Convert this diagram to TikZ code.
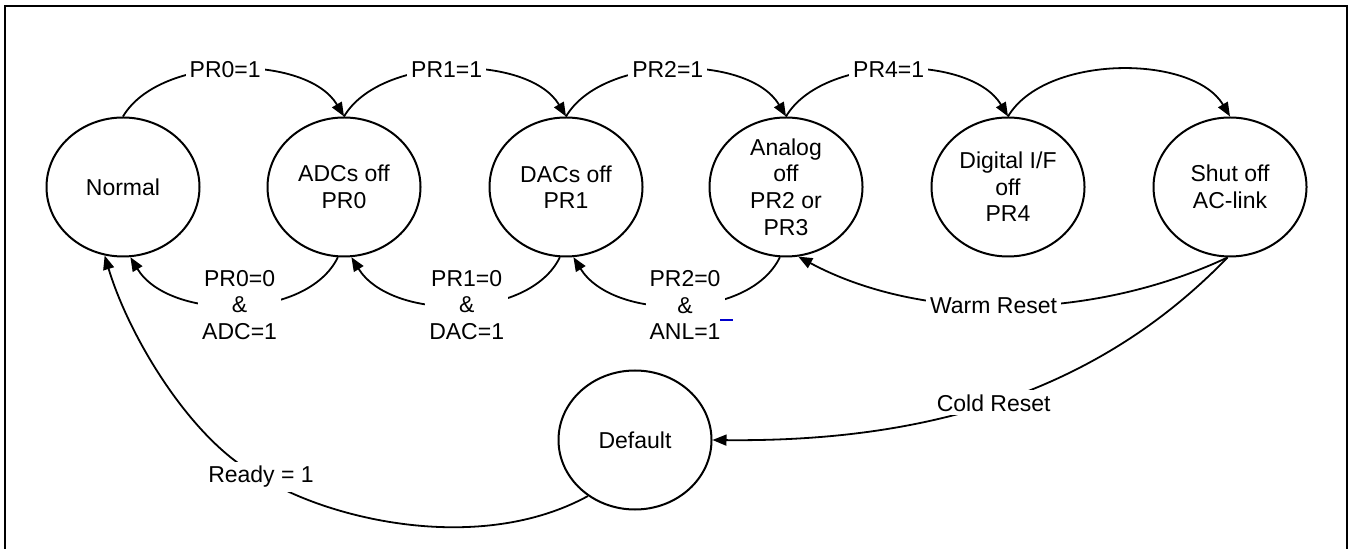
\documentclass[tikz,border=0pt]{standalone}
\usepackage{fontspec}
\setmainfont{Liberation Sans}
\usetikzlibrary{shapes.geometric,arrows.meta}
\newcommand{\lblfont}{\fontsize{11.5}{13.3}\selectfont}
\begin{document}
\begin{tikzpicture}[x=0.5pt,y=-0.5pt,
  st/.style={ellipse,draw,line width=1pt,minimum width=76.5pt,minimum height=69.5pt,inner sep=0pt,align=center,font=\lblfont},
  lbl/.style={fill=white,inner sep=2pt,align=center,font=\lblfont},
  con/.style={line width=0.9pt,-{Triangle[length=7pt,width=5.5pt]}},
  frame/.style={line width=1.3pt}]
\useasboundingbox (0,0) rectangle (1353,549);
\draw[frame] (5,549) -- (5,6) -- (1347,6) -- (1347,549);
% states
\node[st] (N) at (123,187) {Normal};
\node[st] (A) at (344,187) {ADCs off\\PR0};
\node[st] (D) at (566,187) {DACs off\\PR1};
\node[st] (G) at (786,187) {Analog\\off\\PR2 or\\PR3};
\node[st] (I) at (1008,187) {Digital I/F\\off\\PR4};
\node[st] (S) at (1230,187) {Shut off\\AC-link};
\node[st] (Df) at (635,440) {Default};
% forward transitions (top)
\draw[con] (N.north) .. controls (160,54) and (307,54) .. node[lbl,pos=0.47]{PR0=1} (A.north);
\draw[con] (A.north) .. controls (381,54) and (529,54) .. node[lbl,pos=0.47]{PR1=1} (D.north);
\draw[con] (D.north) .. controls (603,54) and (749,54) .. node[lbl,pos=0.47]{PR2=1} (G.north);
\draw[con] (G.north) .. controls (823,54) and (971,54) .. node[lbl,pos=0.47]{PR4=1} (I.north);
\draw[con] (I.north) .. controls (1045,54) and (1193,54) .. (S.north);
% backward transitions (bottom)
\draw[con] (A.-95) .. controls (307,321) and (169,321) .. node[lbl,pos=0.49]{PR0=0\\\&\\ADC=1} (N.-84);
\draw[con] (D.-95) .. controls (529,321) and (391,321) .. node[lbl,pos=0.47]{PR1=0\\\&\\DAC=1} (A.-84);
\draw[con] (G.-95) .. controls (749,321) and (613,321) .. node[lbl,pos=0.48]{PR2=0\\\&\\ANL=1} (D.-84);
\draw[blue!80!black,line width=0.8pt] (720,320) -- (733,320);
% resets
\draw[con] (S.-92) .. controls (1090,322) and (920,322) .. node[lbl,pos=0.53]{Warm Reset} (G.-80);
\draw[con] (S.-92) .. controls (1090,400) and (913,442) .. node[lbl,pos=0.5]{Cold Reset} (Df.east);
% ready
\coordinate (rc) at (261,477);
\draw[con] (Df.230) .. controls (480,555) and (330,520) .. (rc) .. controls (195,445) and (130,340) .. (N.-105);
\node[lbl] (rdy) at (rc) {Ready = 1};
\end{tikzpicture}
\end{document}
